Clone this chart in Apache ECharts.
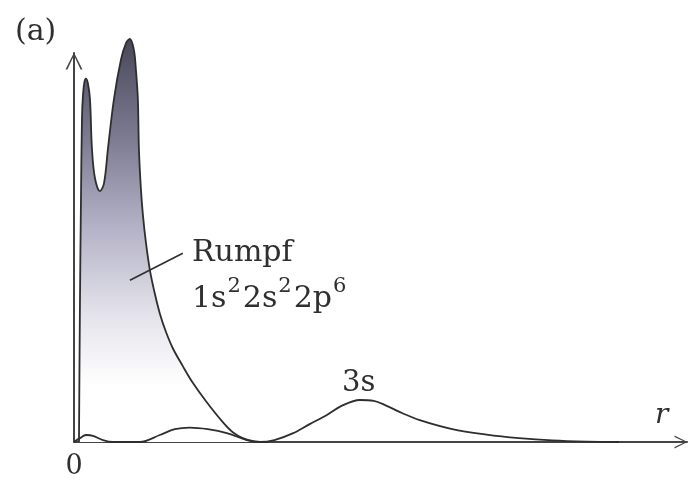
<!DOCTYPE html>
<html>
<head>
<meta charset="utf-8">
<script src="https://cdn.jsdelivr.net/npm/echarts@6/dist/echarts.min.js"></script>
<style>
html,body{margin:0;padding:0;background:#fff;}
#chart{width:690px;height:480px;}
</style>
</head>
<body>
<div id="chart"></div>
<script>
// Core (Rumpf 1s2 2s2 2p6) radial density: [r, density] in arbitrary units
const coreR = [0.81, 0.98, 1.14, 1.30, 1.47, 1.71, 1.95, 2.28, 2.61, 2.93, 3.42, 4.23, 4.89, 5.54, 6.51, 7.65, 8.47, 9.12, 9.77, 10.10, 10.42, 10.59, 10.91, 11.24, 11.73, 12.38, 13.19, 14.01, 14.98, 16.12, 17.75, 19.38, 21.66, 24.27, 25.9, 27.52, 29.48, 31.6];
const coreD = [0, 37.3, 62.7, 83.0, 89.3, 92.6, 93.4, 92.1, 88.1, 75.4, 67.8, 64.5, 66.5, 75.4, 88.1, 98.2, 102.5, 103.6, 100.8, 95.7, 88.1, 75.4, 65.2, 58.4, 51.3, 44.2, 38.1, 33.0, 28.4, 24.1, 19.5, 15.2, 10.2, 5.1, 2.5, 1.0, 0.13, 0];
// 3s valence orbital radial density
const s3R = [0, 0.98, 1.95, 3.09, 4.72, 6.35, 10.75, 14.0, 16.45, 18.89, 21.82, 24.92, 28.18, 30.29, 32.7, 35.67, 38.44, 41.2, 43.8, 46.6, 48.9, 51.0, 53.6, 56.4, 61.7, 67.3, 72.6, 78.0, 83.6, 88.9];
const s3D = [0, 1.0, 1.8, 1.6, 0.5, 0, 0, 1.8, 3.3, 3.7, 3.3, 2.3, 0.5, 0, 0.5, 2.2, 4.6, 6.9, 9.4, 10.8, 10.6, 9.3, 7.4, 5.6, 3.3, 1.9, 1.0, 0.4, 0.1, 0];
// leader line from shaded core area to the "Rumpf" label
const leaderR = [9.12, 17.75];
const leaderD = [41.6, 48.5];
// axis tick labels
const xTickLabels = ['0'];

const zip = (a, b) => a.map((v, i) => [v, b[i]]);

const chart = echarts.init(document.getElementById('chart'), null, {renderer: 'canvas'});
const serif = '"DejaVu Serif", "Liberation Serif", serif';
const ink = '#2e2e2e';
const txt = '#2f2f2f';
const chevron = 'path://M50,0 L100,100 L89,100 L50,18 L11,100 L0,100 Z';

chart.setOption({
  backgroundColor: '#ffffff',
  animation: false,
  grid: {left: 74, right: 2, top: 53, bottom: 33},
  xAxis: {
    type: 'value', min: 0, max: 100, interval: 100,
    axisLine: {show: true, lineStyle: {color: '#444', width: 2},
      symbol: ['none', chevron], symbolSize: [20, 13], symbolOffset: [0, -6]},
    axisTick: {show: false},
    splitLine: {show: false},
    axisLabel: {show: true, margin: 11, color: txt, fontFamily: serif, fontSize: 27,
      formatter: v => (v === 0 ? xTickLabels[0] : '')}
  },
  yAxis: {
    type: 'value', min: 0, max: 100,
    axisLine: {show: true, lineStyle: {color: '#444', width: 2},
      symbol: ['none', chevron], symbolSize: [22, 17], symbolOffset: [0, -8]},
    axisTick: {show: false},
    splitLine: {show: false},
    axisLabel: {show: false}
  },
  series: [
    {
      name: 'Rumpf', type: 'line', data: zip(coreR, coreD),
      smooth: 0.35, showSymbol: false, symbol: 'none', clip: false,
      lineStyle: {color: ink, width: 1.8},
      areaStyle: {
        color: new echarts.graphic.LinearGradient(0, 0, 0, 1, [
          {offset: 0, color: '#48475a'},
          {offset: 0.25, color: '#7e7c92'},
          {offset: 0.46, color: '#b2b0c5'},
          {offset: 0.69, color: '#e5e4ec'},
          {offset: 0.86, color: '#ffffff'},
          {offset: 1, color: '#ffffff'}
        ]),
        opacity: 1
      },
      markLine: {
        silent: true, symbol: ['none', 'none'], label: {show: false},
        lineStyle: {color: ink, width: 1.6, type: 'solid'},
        data: [[{coord: [leaderR[0], leaderD[0]]}, {coord: [leaderR[1], leaderD[1]]}]]
      },
      z: 2
    },
    {
      name: '3s', type: 'line', data: zip(s3R, s3D),
      smooth: 0.35, showSymbol: false, symbol: 'none', clip: false,
      lineStyle: {color: ink, width: 1.8},
      z: 3
    }
  ],
  graphic: [
    {type: 'text', left: 15, top: 17, style: {text: '(a)', font: '30px ' + serif, fill: txt}},
    {type: 'text', left: 192, top: 238, style: {text: 'Rumpf', font: '30px ' + serif, fill: txt}},
    {type: 'text', left: 192, top: 276, style: {
      text: '{b|1s}{s|2}{b|2s}{s|2}{b|2p}{s|6}',
      rich: {
        b: {fontFamily: serif, fontSize: 30, fill: txt, lineHeight: 38, verticalAlign: 'bottom'},
        s: {fontFamily: serif, fontSize: 21, fill: txt, lineHeight: 21, verticalAlign: 'top', padding: [0, 2, 0, 1]}
      }
    }},
    {type: 'text', left: 342, top: 369, style: {text: '3s', font: '29px ' + serif, fill: txt}},
    {type: 'text', left: 655, top: 402, style: {text: 'r', font: 'italic 28px ' + serif, fill: txt}}
  ]
});
</script>
</body>
</html>
